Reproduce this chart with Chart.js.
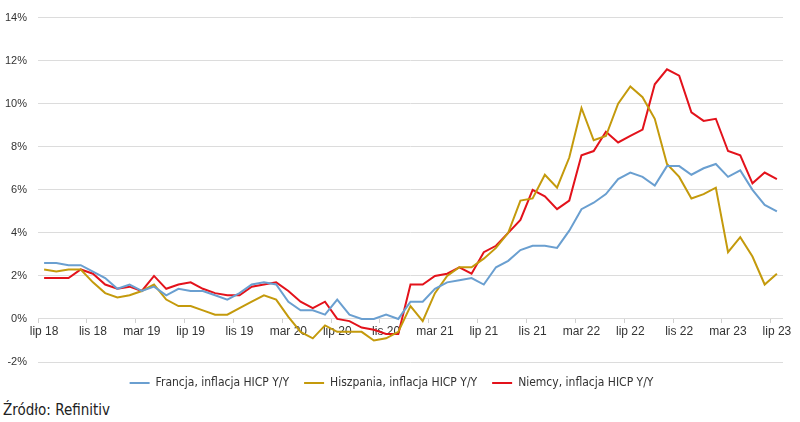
<!DOCTYPE html>
<html lang="pl">
<head>
<meta charset="utf-8">
<script src="https://cdn.jsdelivr.net/npm/chart.js@4.4.1/dist/chart.umd.min.js"></script>
<style>
    html, body { margin: 0; padding: 0; background: #ffffff; }
    #wrap { position: relative; width: 800px; height: 422px; }
    #box { position: absolute; left: 0; top: 0; width: 800px; height: 399px; }
    #source {
        position: absolute; left: 3px; top: 401px;
        font-family: 'DejaVu Sans Condensed', 'Liberation Sans Narrow', sans-serif;
        font-size: 15px; color: #222222;
    }
</style>
</head>
<body>
<div id="wrap">
    <div id="box"><canvas id="chart"></canvas></div>
    <div id="source">Źródło: Refinitiv</div>
</div>
<script>
// Months lip 18 .. lip 23
const monthNames = ['sty', 'lut', 'mar', 'kwi', 'maj', 'cze', 'lip', 'sie', 'wrz', 'paź', 'lis', 'gru'];
const labels = [];
for (let i = 0; i < 61; i++) {
    const m = (6 + i) % 12;
    const y = 18 + Math.floor((6 + i) / 12);
    labels.push(monthNames[m] + ' ' + y);
}

const yTicks = [-2, 0, 2, 4, 6, 8, 10, 12, 14];

const francja = [
    2.6, 2.6, 2.5, 2.5, 2.2, 1.9, 1.4, 1.6, 1.3, 1.5, 1.1, 1.4,
    1.3, 1.3, 1.1, 0.9, 1.2, 1.6, 1.7, 1.6, 0.8, 0.4, 0.4, 0.2,
    0.9, 0.2, 0.0, 0.0, 0.2, 0.0, 0.8, 0.8, 1.4, 1.7, 1.8, 1.9,
    1.6, 2.4, 2.7, 3.2, 3.4, 3.4, 3.3, 4.1, 5.1, 5.4, 5.8, 6.5,
    6.8, 6.6, 6.2, 7.1, 7.1, 6.7, 7.0, 7.2, 6.6, 6.9, 6.0, 5.3,
    5.0
];

const hiszpania = [
    2.3, 2.2, 2.3, 2.3, 1.7, 1.2, 1.0, 1.1, 1.3, 1.6, 0.9, 0.6,
    0.6, 0.4, 0.2, 0.2, 0.5, 0.8, 1.1, 0.9, 0.1, -0.6, -0.9, -0.3,
    -0.6, -0.6, -0.6, -1.0, -0.9, -0.6, 0.6, -0.1, 1.2, 2.0, 2.4, 2.4,
    2.8, 3.3, 4.0, 5.5, 5.6, 6.7, 6.1, 7.5, 9.8, 8.3, 8.5, 10.0,
    10.8, 10.3, 9.3, 7.2, 6.6, 5.6, 5.8, 6.1, 3.1, 3.8, 2.9, 1.6,
    2.1
];

const niemcy = [
    1.9, 1.9, 1.9, 2.3, 2.1, 1.6, 1.4, 1.5, 1.3, 2.0, 1.4, 1.6,
    1.7, 1.4, 1.2, 1.1, 1.1, 1.5, 1.6, 1.7, 1.3, 0.8, 0.5, 0.8,
    0.0, -0.1, -0.4, -0.5, -0.7, -0.7, 1.6, 1.6, 2.0, 2.1, 2.4, 2.1,
    3.1, 3.4, 4.0, 4.6, 6.0, 5.7, 5.1, 5.5, 7.6, 7.8, 8.7, 8.2,
    8.5, 8.8, 10.9, 11.6, 11.3, 9.6, 9.2, 9.3, 7.8, 7.6, 6.3, 6.8,
    6.5
];

const tickFont = { family: "'Liberation Sans', 'DejaVu Sans', sans-serif", size: 11 };

new Chart(document.getElementById('chart'), {
    type: 'line',
    data: {
        labels: labels,
        datasets: [
            { label: 'Francja, inflacja HICP Y/Y', data: francja, borderColor: '#6a9fd0' },
            { label: 'Hiszpania, inflacja HICP Y/Y', data: hiszpania, borderColor: '#c49a0c' },
            { label: 'Niemcy, inflacja HICP Y/Y', data: niemcy, borderColor: '#e3121b' }
        ].map(d => Object.assign(d, {
            backgroundColor: d.borderColor,
            borderWidth: 2,
            pointRadius: 0,
            tension: 0,
            fill: false
        }))
    },
    options: {
        responsive: true,
        maintainAspectRatio: false,
        animation: false,
        layout: { padding: { top: 10, left: 0, right: 17, bottom: 0 } },
        plugins: {
            legend: {
                position: 'bottom',
                labels: {
                    usePointStyle: true,
                    pointStyle: 'line',
                    pointStyleWidth: 20,
                    boxHeight: 2,
                    padding: 15,
                    color: '#333333',
                    font: { family: "'DejaVu Sans Condensed', 'Liberation Sans Narrow', sans-serif", size: 12 }
                }
            },
            tooltip: { enabled: false }
        },
        scales: {
            x: {
                position: { y: 0 },
                offset: true,
                border: { display: false },
                grid: {
                    offset: true,
                    drawOnChartArea: false,
                    drawTicks: true,
                    tickLength: 4,
                    color: ctx => (ctx.index % 4 === 0 ? '#d0d0d0' : 'rgba(0,0,0,0)')
                },
                ticks: {
                    autoSkip: false,
                    maxRotation: 0,
                    padding: 2,
                    color: '#333333',
                    font: { family: "'Liberation Sans', 'DejaVu Sans', sans-serif", size: 12 },
                    callback: (v, i) => (i % 4 === 0 ? labels[i] : '')
                }
            },
            y: {
                min: -2,
                max: 14,
                afterBuildTicks: axis => { axis.ticks = yTicks.map(v => ({ value: v })); },
                afterFit: axis => { axis.width = 38; },
                border: { display: false },
                grid: { color: '#dcdcdc', lineWidth: 1, drawTicks: false },
                ticks: {
                    padding: 11,
                    color: '#333333',
                    font: tickFont,
                    callback: v => v + '%'
                }
            }
        }
    }
});
</script>
</body>
</html>
